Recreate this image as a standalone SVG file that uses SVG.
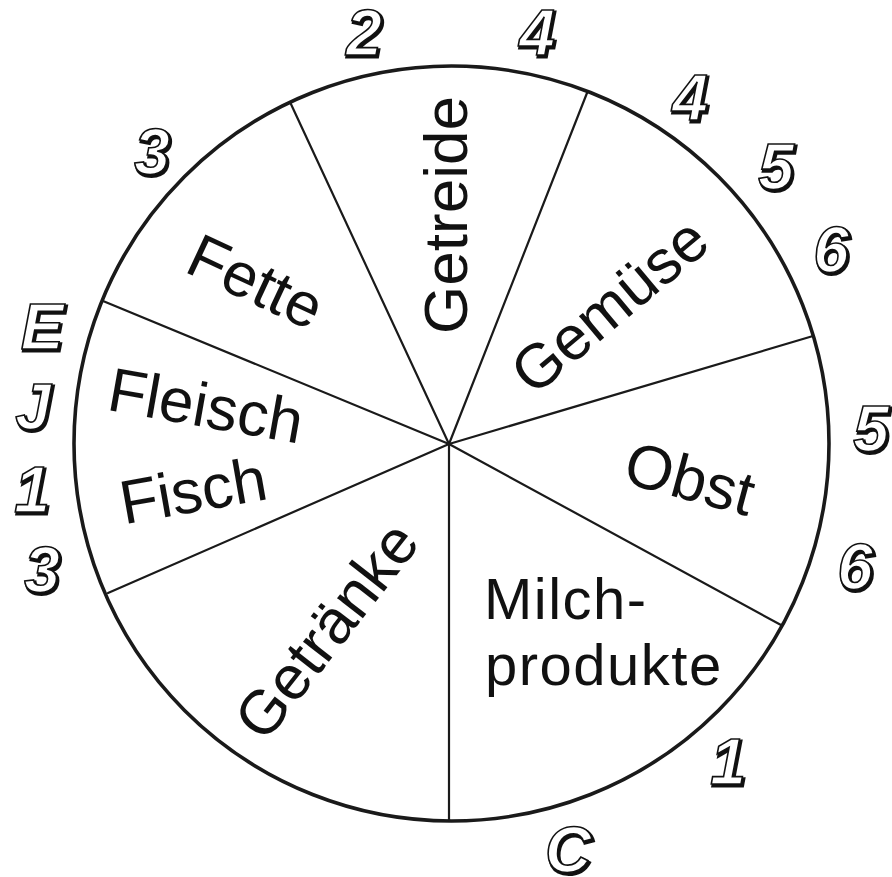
<svg xmlns="http://www.w3.org/2000/svg" width="892" height="877" viewBox="0 0 892 877">
<style>
.lbl{font-family:"Liberation Sans",Arial,sans-serif;font-size:62px;fill:#111;}
.lbl2{font-family:"Liberation Sans",Arial,sans-serif;font-size:58px;fill:#111;letter-spacing:1.5px;}
.num{font-family:"Liberation Sans",Arial,sans-serif;font-size:64px;font-weight:bold;font-style:italic;text-anchor:middle;}
.sh{fill:#111;stroke:#111;stroke-width:3;}
.fg{fill:#fff;stroke:#111;stroke-width:1.6;}
.ray{stroke:#1a1a1a;stroke-width:2.2;fill:none;stroke-linecap:round;}
</style>
<rect width="892" height="877" fill="#fff"/>
<g id="connectors">
<circle cx="451.5" cy="443.5" r="377.5" fill="none" stroke="#1a1a1a" stroke-width="3.6"/>
<line class="ray" x1="449" y1="444" x2="290" y2="102"/>
<line class="ray" x1="449" y1="444" x2="587" y2="93"/>
<line class="ray" x1="449" y1="444" x2="813" y2="336"/>
<line class="ray" x1="449" y1="444" x2="781" y2="625"/>
<line class="ray" x1="449" y1="444" x2="449" y2="821"/>
<line class="ray" x1="449" y1="444" x2="108" y2="593"/>
<line class="ray" x1="449" y1="444" x2="103" y2="301"/>
</g>
<g id="getreide" transform="translate(445,215) rotate(-90)"><text class="lbl" x="0" y="22" text-anchor="middle">Getreide</text></g>
<g id="gemuese" transform="translate(609,305) rotate(-40)"><text class="lbl" x="0" y="22" text-anchor="middle">Gemüse</text></g>
<g id="obst" transform="translate(690,478) rotate(15)"><text class="lbl" x="0" y="22" text-anchor="middle">Obst</text></g>
<g id="milchprodukte"><text class="lbl2" x="484" y="619">Milch-</text><text class="lbl2" x="485" y="685">produkte</text></g>
<g id="getraenke" transform="translate(326,630) rotate(-52)"><text class="lbl" x="0" y="22" text-anchor="middle">Getränke</text></g>
<g id="fleisch-fisch">
<g transform="translate(206,405) rotate(10)"><text class="lbl" x="0" y="22" text-anchor="middle">Fleisch</text></g>
<g transform="translate(193,490) rotate(-10)"><text class="lbl" x="0" y="22" text-anchor="middle">Fisch</text></g>
</g>
<g id="fette" transform="translate(256,281) rotate(25)"><text class="lbl" x="0" y="22" text-anchor="middle">Fette</text></g>
<g id="numbers">
<defs>
<g id="nums">
<text x="364" y="55">2</text>
<text x="537" y="55">4</text>
<text x="690" y="120">4</text>
<text x="776" y="189">5</text>
<text x="831" y="272">6</text>
<text x="871" y="451">5</text>
<text x="855" y="589">6</text>
<text x="728" y="784">1</text>
<text x="568" y="872">C</text>
<text x="152" y="174">3</text>
<text x="42" y="349">E</text>
<text x="33" y="429">J</text>
<text x="32" y="512">1</text>
<text x="42" y="592">3</text>
</g>
</defs>
<use href="#nums" class="num sh" transform="translate(1.5,1.5)"/>
<use href="#nums" class="num fg"/>
</g>
</svg>
